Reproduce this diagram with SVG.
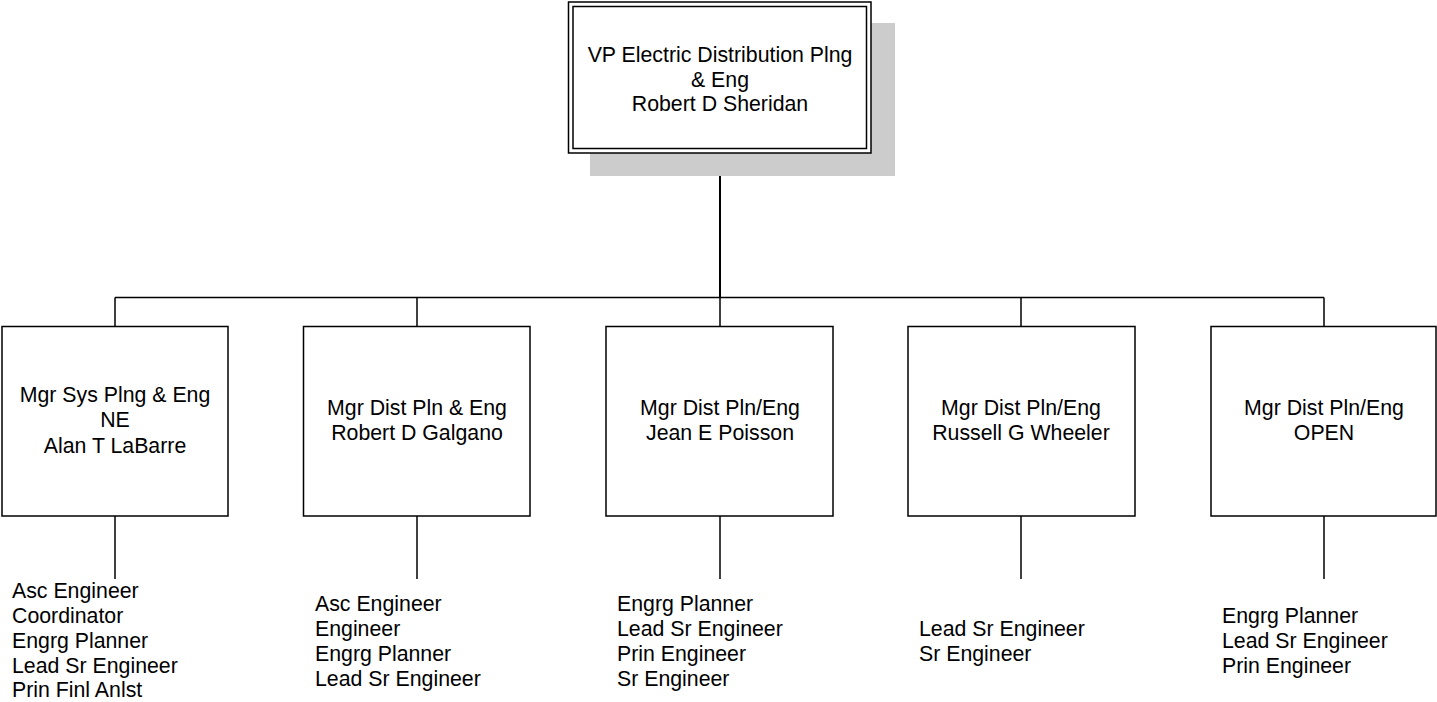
<svg xmlns="http://www.w3.org/2000/svg" width="1437" height="702" viewBox="0 0 1437 702">
<style>
.box{fill:#fff;stroke:#000;stroke-width:1.5}
.ln{fill:none;stroke:#000;stroke-width:1.5}
.t{font-family:"Liberation Sans",Arial,sans-serif;font-size:21.3px;fill:#000}
.c{text-anchor:middle}
</style>
<rect x="0" y="0" width="1437" height="702" fill="#fff"/>
<g id="connectors">
<line class="ln" x1="720" y1="153" x2="720" y2="297.5" style="stroke-width:2"/>
<line class="ln" x1="115" y1="297.5" x2="1324" y2="297.5"/>
<line class="ln" x1="115" y1="297.5" x2="115" y2="326"/>
<line class="ln" x1="417" y1="297.5" x2="417" y2="326"/>
<line class="ln" x1="720" y1="297.5" x2="720" y2="326"/>
<line class="ln" x1="1021" y1="297.5" x2="1021" y2="326"/>
<line class="ln" x1="1324" y1="297.5" x2="1324" y2="326"/>
<line class="ln" x1="115" y1="516" x2="115" y2="579"/>
<line class="ln" x1="417" y1="516" x2="417" y2="579"/>
<line class="ln" x1="720" y1="516" x2="720" y2="579"/>
<line class="ln" x1="1021" y1="516" x2="1021" y2="579"/>
<line class="ln" x1="1324" y1="516" x2="1324" y2="579"/>
</g>
<g id="vp">
<rect x="590" y="23" width="305" height="153" fill="#cccccc"/>
<rect class="box" x="568.5" y="2" width="302.5" height="151"/>
<rect class="box" x="573" y="6.5" width="293.5" height="142"/>
<text class="t c" x="720" y="62">VP Electric Distribution Plng</text>
<text class="t c" x="720" y="87">&amp; Eng</text>
<text class="t c" x="720" y="111">Robert D Sheridan</text>
</g>
<g id="mgr1">
<rect class="box" x="2" y="326.5" width="226" height="189.5"/>
<text class="t c" x="115" y="402">Mgr Sys Plng &amp; Eng</text>
<text class="t c" x="115" y="427">NE</text>
<text class="t c" x="115" y="452.5">Alan T LaBarre</text>
</g>
<g id="mgr2">
<rect class="box" x="303.5" y="326.5" width="226.5" height="189.5"/>
<text class="t c" x="417" y="415">Mgr Dist Pln &amp; Eng</text>
<text class="t c" x="417" y="440">Robert D Galgano</text>
</g>
<g id="mgr3">
<rect class="box" x="606" y="326.5" width="227" height="189.5"/>
<text class="t c" x="720" y="415">Mgr Dist Pln/Eng</text>
<text class="t c" x="720" y="440">Jean E Poisson</text>
</g>
<g id="mgr4">
<rect class="box" x="908" y="326.5" width="227" height="189.5"/>
<text class="t c" x="1021" y="415">Mgr Dist Pln/Eng</text>
<text class="t c" x="1021" y="440">Russell G Wheeler</text>
</g>
<g id="mgr5">
<rect class="box" x="1211" y="326.5" width="225" height="189.5"/>
<text class="t c" x="1324" y="415">Mgr Dist Pln/Eng</text>
<text class="t c" x="1324" y="440">OPEN</text>
</g>
<g id="list1">
<text class="t" x="12" y="598">Asc Engineer</text>
<text class="t" x="12" y="623">Coordinator</text>
<text class="t" x="12" y="648">Engrg Planner</text>
<text class="t" x="12" y="672.5">Lead Sr Engineer</text>
<text class="t" x="12" y="697">Prin Finl Anlst</text>
</g>
<g id="list2">
<text class="t" x="315" y="610.5">Asc Engineer</text>
<text class="t" x="315" y="635.5">Engineer</text>
<text class="t" x="315" y="660.5">Engrg Planner</text>
<text class="t" x="315" y="685.5">Lead Sr Engineer</text>
</g>
<g id="list3">
<text class="t" x="617" y="610.5">Engrg Planner</text>
<text class="t" x="617" y="635.5">Lead Sr Engineer</text>
<text class="t" x="617" y="660.5">Prin Engineer</text>
<text class="t" x="617" y="685.5">Sr Engineer</text>
</g>
<g id="list4">
<text class="t" x="919" y="635.5">Lead Sr Engineer</text>
<text class="t" x="919" y="660.5">Sr Engineer</text>
</g>
<g id="list5">
<text class="t" x="1222" y="623">Engrg Planner</text>
<text class="t" x="1222" y="648">Lead Sr Engineer</text>
<text class="t" x="1222" y="672.5">Prin Engineer</text>
</g>
</svg>
